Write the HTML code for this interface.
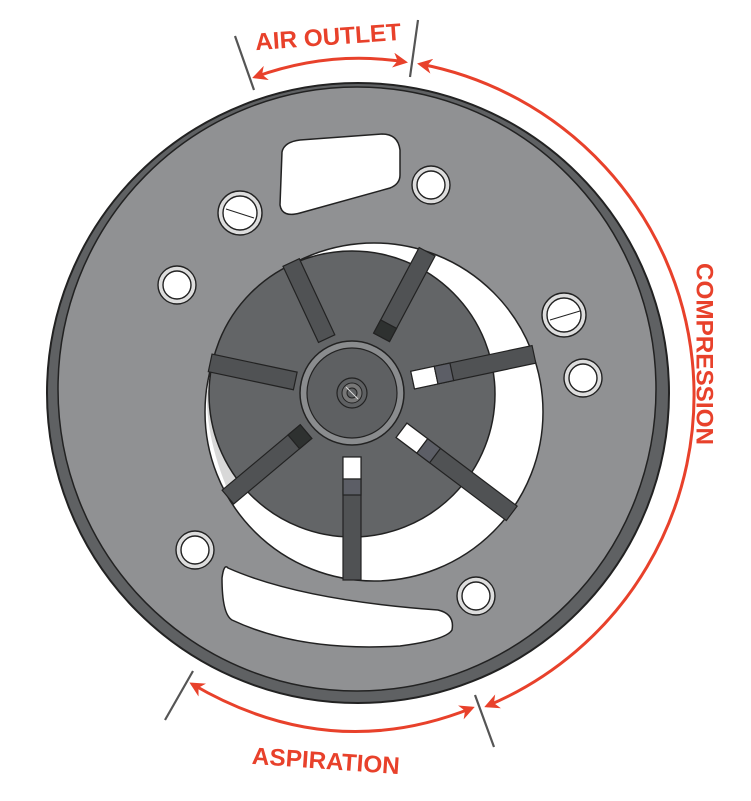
<!DOCTYPE html>
<html><head><meta charset="utf-8"><style>html,body{margin:0;padding:0;background:#fff}svg{display:block}</style></head>
<body>
<svg width="751" height="801" viewBox="0 0 751 801" xmlns="http://www.w3.org/2000/svg">
<defs>
<marker id="ah" viewBox="0 0 10 10" refX="8" refY="5" markerWidth="5" markerHeight="5" orient="auto-start-reverse" markerUnits="strokeWidth">
<path d="M0,0 L10,5 L0,10 L3,5 Z" fill="#e8412b"/></marker>
</defs>
<ellipse cx="358" cy="393" rx="311" ry="310" fill="#5f6163" stroke="#222" stroke-width="2"/>
<ellipse cx="357" cy="389" rx="299" ry="302" fill="#909193" stroke="#222" stroke-width="1.5"/>
<path d="M282,152 Q284,142 300,140 L382,134 Q398,134 400,150 L400,175 Q400,184 390,188 L300,213 Q282,218 280,205 Z" fill="#fff" stroke="#222" stroke-width="1.5"/>
<path d="M228,568 Q300,600 438,610 Q455,614 452,630 Q446,640 400,646 Q300,652 232,620 Q222,614 222,578 Q224,563 228,568 Z" fill="#fff" stroke="#222" stroke-width="1.5"/>
<circle cx="374" cy="412" r="169" fill="#fff" stroke="#222" stroke-width="1.5"/>
<path d="M207,390 Q205,440 232,500 L250,480 Q215,440 213,390 Z" fill="#d8d8d8"/>
<circle cx="352" cy="394" r="143" fill="#636567" stroke="#222" stroke-width="1.5"/>
<g stroke="#222" stroke-width="1.2">
<g transform="translate(352,393) rotate(-115)"><rect x="60" y="-9" width="84" height="18" fill="#505254"/></g>
<g transform="translate(352,393) rotate(-62)"><rect x="63" y="-9" width="97" height="18" fill="#505254"/><rect x="63" y="-9" width="15" height="18" fill="#2e3130"/></g>
<g transform="translate(352,393) rotate(-12)"><rect x="62" y="-9" width="124" height="18" fill="#505254"/><rect x="62" y="-9" width="24" height="18" fill="#fff"/><rect x="86" y="-9" width="16" height="18" fill="#5c5e66"/></g>
<g transform="translate(352,393) rotate(37)"><rect x="62" y="-9" width="138" height="18" fill="#505254"/><rect x="62" y="-9" width="26" height="18" fill="#fff"/><rect x="88" y="-9" width="16" height="18" fill="#5c5e66"/></g>
<g transform="translate(352,393) rotate(90)"><rect x="64" y="-9" width="123" height="18" fill="#505254"/><rect x="64" y="-9" width="22" height="18" fill="#fff"/><rect x="86" y="-9" width="16" height="18" fill="#5c5e66"/></g>
<g transform="translate(352,393) rotate(140)"><rect x="60" y="-9" width="102" height="18" fill="#505254"/><rect x="60" y="-9" width="16" height="18" fill="#2e3130"/></g>
<g transform="translate(352,393) rotate(192)"><rect x="58" y="-9" width="87" height="18" fill="#505254"/></g>
</g>
<circle cx="352" cy="393" r="52" fill="#8a8c8e" stroke="#222" stroke-width="1.5"/>
<circle cx="352" cy="393" r="45" fill="#5e6062" stroke="#222" stroke-width="1.2"/>
<circle cx="352" cy="393" r="15" fill="#5e6062" stroke="#222" stroke-width="1.2"/>
<circle cx="352" cy="393" r="10" fill="#777" stroke="#222" stroke-width="1"/>
<circle cx="352" cy="393" r="5" fill="#5e6062" stroke="#222" stroke-width="1"/>
<line x1="346" y1="387" x2="358" y2="399" stroke="#ddd" stroke-width="1"/>
<g stroke="#222" stroke-width="1.4">
<circle cx="240" cy="213" r="22" fill="#ddd"/><circle cx="240" cy="213" r="17" fill="#fff"/>
<line x1="226" y1="209" x2="254" y2="218" stroke-width="1"/>
<circle cx="564" cy="315" r="22" fill="#ddd"/><circle cx="564" cy="315" r="17" fill="#fff"/>
<line x1="550" y1="320" x2="580" y2="311" stroke-width="1"/>
<circle cx="431" cy="185" r="19" fill="#ddd"/><circle cx="431" cy="185" r="14" fill="#fff"/>
<circle cx="177" cy="285" r="19" fill="#ddd"/><circle cx="177" cy="285" r="14" fill="#fff"/>
<circle cx="583" cy="378" r="19" fill="#ddd"/><circle cx="583" cy="378" r="14" fill="#fff"/>
<circle cx="195" cy="550" r="19" fill="#ddd"/><circle cx="195" cy="550" r="14" fill="#fff"/>
<circle cx="476" cy="596" r="19" fill="#ddd"/><circle cx="476" cy="596" r="14" fill="#fff"/>
</g>
<g stroke="#555" stroke-width="2.2">
<line x1="235" y1="36" x2="254" y2="90"/>
<line x1="418" y1="20" x2="410" y2="77"/>
<line x1="193" y1="671" x2="165" y2="720"/>
<line x1="475" y1="695" x2="494" y2="747"/>
</g>
<g fill="none" stroke="#e8412b" stroke-width="3">
<path d="M255,77 Q330,50 405,62" marker-start="url(#ah)" marker-end="url(#ah)"/>
<path d="M420,64 A337,337 0 0 1 487,706" marker-start="url(#ah)" marker-end="url(#ah)"/>
<path d="M192,684 Q330,765 472,708" marker-start="url(#ah)" marker-end="url(#ah)"/>
</g>
<g font-family="Liberation Sans, sans-serif" font-weight="bold" fill="#e8412b" font-size="24">
<text x="328" y="45" text-anchor="middle" transform="rotate(-4 328 36)" textLength="146" lengthAdjust="spacingAndGlyphs">AIR OUTLET</text>
<text x="326" y="769" text-anchor="middle" transform="rotate(4 326 760)" textLength="148" lengthAdjust="spacingAndGlyphs">ASPIRATION</text>
<text x="704" y="354" text-anchor="middle" dominant-baseline="central" transform="rotate(90 704 354)" textLength="182" lengthAdjust="spacingAndGlyphs">COMPRESSION</text>
</g>
</svg>
</body></html>
